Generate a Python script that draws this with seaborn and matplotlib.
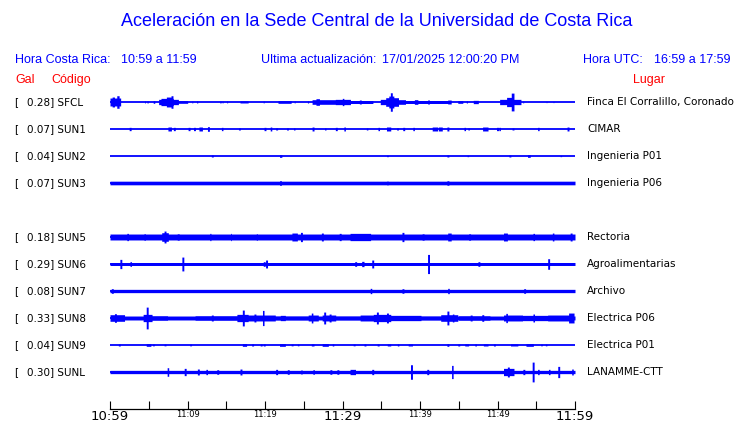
import numpy as np
import pandas as pd
import matplotlib
matplotlib.use("Agg")
import matplotlib.pyplot as plt
import matplotlib.transforms as mtransforms
import seaborn as sns

# stations, top to bottom (row 4 = SUN4, no data this hour)
CODES = ["SFCL", "SUN1", "SUN2", "SUN3", "SUN5", "SUN6", "SUN7", "SUN8", "SUN9", "SUNL"]
ROWS = [0, 1, 2, 3, 5, 6, 7, 8, 9, 10]
PGA = [0.28, 0.07, 0.04, 0.07, 0.18, 0.29, 0.08, 0.33, 0.04, 0.30]
PLACES = ["Finca El Corralillo, Coronado", "CIMAR", "Ingenieria P01", "Ingenieria P06",
          "Rectoria", "Agroalimentarias", "Archivo", "Electrica P06", "Electrica P01",
          "LANAMME-CTT"]

# background noise level of each trace (Gal)
BASE = [0.0, 0.0, 0.0, 0.055, 0.09, 0.045, 0.05, 0.06, 0.0, 0.05]

# bursts: (start min, end min, amplitude Gal)
EV_SFCL = [(0.0, 1.4, 0.12), (0.3, 0.6, 0.15), (0.9, 1.2, 0.19), (4.5, 4.6, 0.03),
           (4.8, 4.9, 0.03), (5.6, 5.8, 0.04), (6.3, 8.8, 0.08), (6.6, 8.2, 0.11),
           (7.3, 8.0, 0.15), (7.9, 8.1, 0.19), (8.8, 10.0, 0.04), (10.6, 10.7, 0.03),
           (11.2, 11.3, 0.03), (14.2, 14.3, 0.03), (14.5, 14.6, 0.03), (15.1, 15.2, 0.03),
           (16.8, 17.8, 0.03), (19.8, 19.9, 0.03), (21.7, 23.4, 0.04), (23.8, 23.9, 0.03),
           (25.5, 25.6, 0.03), (26.1, 27.8, 0.07), (26.6, 27.0, 0.10), (27.8, 29.1, 0.07),
           (29.1, 31.0, 0.08), (30.0, 30.2, 0.11), (31.0, 33.9, 0.045), (32.2, 32.4, 0.06),
           (34.9, 35.6, 0.08), (35.6, 37.2, 0.13), (36.0, 36.6, 0.18), (36.2, 36.4, 0.28),
           (37.2, 38.1, 0.07), (38.1, 43.6, 0.045), (39.3, 39.7, 0.07), (41.0, 41.2, 0.06),
           (43.6, 44.0, 0.06), (44.9, 45.5, 0.04), (46.0, 46.1, 0.03), (46.9, 47.5, 0.05),
           (50.3, 51.2, 0.08), (51.2, 52.1, 0.14), (51.8, 52.1, 0.27), (52.1, 53.0, 0.08),
           (53.3, 53.4, 0.03), (56.3, 56.4, 0.02), (57.2, 57.3, 0.02)]
EV_SUN1 = [(2.5, 2.7, 0.05), (7.5, 7.9, 0.06), (8.2, 8.4, 0.05), (10.1, 10.3, 0.05),
           (10.8, 11.0, 0.05), (11.5, 11.9, 0.06), (12.6, 12.8, 0.07), (14.4, 14.6, 0.05),
           (16.6, 16.8, 0.03), (19.9, 20.1, 0.05), (20.7, 20.9, 0.06), (21.4, 21.6, 0.03),
           (22.8, 23.0, 0.03), (23.7, 23.9, 0.03), (26.1, 26.3, 0.06), (27.7, 27.9, 0.03),
           (29.1, 29.3, 0.05), (30.2, 30.4, 0.06), (33.1, 33.3, 0.03), (34.6, 34.8, 0.05),
           (35.7, 36.2, 0.06), (37.0, 37.2, 0.03), (37.8, 38.0, 0.05), (39.1, 39.3, 0.05),
           (41.6, 42.3, 0.06), (42.4, 42.9, 0.06), (43.5, 43.7, 0.06), (45.7, 45.9, 0.05),
           (46.2, 46.4, 0.03), (48.1, 48.8, 0.06), (49.9, 50.1, 0.05), (50.2, 50.4, 0.05),
           (51.9, 52.1, 0.03), (55.2, 55.4, 0.05), (59.0, 59.2, 0.06)]
EV_SUN2 = [(13.1, 13.3, 0.03), (21.9, 22.2, 0.04), (35.7, 35.9, 0.02), (43.5, 43.7, 0.03),
           (46.1, 46.3, 0.02), (51.5, 51.7, 0.03), (53.9, 54.2, 0.04), (58.1, 58.3, 0.02)]
EV_SUN3 = [(21.9, 22.1, 0.07), (35.7, 35.9, 0.06), (43.5, 43.7, 0.07)]
EV_SUN5 = [(2.2, 2.4, 0.11), (4.4, 4.6, 0.10), (6.7, 7.5, 0.13), (7.0, 7.2, 0.18),
           (8.7, 8.9, 0.10), (12.9, 13.0, 0.11), (15.6, 15.7, 0.11), (18.9, 19.0, 0.10),
           (23.5, 24.2, 0.12), (24.6, 24.8, 0.14), (27.3, 27.5, 0.12), (29.6, 29.8, 0.11),
           (31.0, 33.6, 0.11), (37.7, 37.9, 0.14), (40.3, 40.5, 0.10), (43.6, 44.0, 0.12),
           (46.3, 46.5, 0.10), (50.8, 51.3, 0.12), (54.6, 54.8, 0.11), (57.1, 57.3, 0.12),
           (59.4, 59.6, 0.12)]
EV_SUN6 = [(1.3, 1.5, 0.14), (2.6, 2.8, 0.07), (9.3, 9.5, 0.21), (19.8, 20.0, 0.07),
           (20.1, 20.3, 0.12), (31.6, 31.8, 0.07), (32.5, 32.8, 0.08), (33.8, 34.0, 0.12),
           (41.0, 41.2, 0.29), (47.5, 47.7, 0.07), (56.5, 56.7, 0.16)]
EV_SUN7 = [(0.2, 0.4, 0.07), (33.6, 33.8, 0.08), (37.7, 37.9, 0.07), (43.6, 43.8, 0.08),
           (53.4, 53.6, 0.07)]
EV_SUN8 = [(0.0, 1.9, 0.10), (0.6, 0.8, 0.13), (4.3, 5.4, 0.11), (4.7, 4.9, 0.33),
           (5.4, 7.4, 0.07), (11.0, 16.4, 0.07), (13.1, 13.3, 0.09), (16.4, 17.8, 0.11),
           (17.1, 17.3, 0.24), (17.8, 21.3, 0.09), (18.6, 18.8, 0.12), (19.7, 19.9, 0.23),
           (21.3, 25.6, 0.065), (22.0, 22.6, 0.08), (25.6, 26.9, 0.09), (26.0, 26.2, 0.15),
           (27.4, 29.1, 0.09), (27.6, 27.8, 0.18), (28.3, 28.5, 0.12), (29.1, 32.3, 0.065),
           (32.3, 34.0, 0.09), (34.0, 36.2, 0.11), (34.4, 34.6, 0.18), (35.7, 35.9, 0.15),
           (36.2, 40.1, 0.08), (40.1, 42.7, 0.065), (42.7, 44.9, 0.10), (43.5, 43.7, 0.21),
           (44.2, 44.4, 0.12), (45.0, 49.0, 0.07), (46.5, 46.7, 0.09), (48.0, 48.2, 0.10),
           (50.8, 53.2, 0.09), (51.1, 51.3, 0.14), (53.2, 56.5, 0.08), (54.6, 54.8, 0.12),
           (56.5, 59.9, 0.09), (59.2, 59.9, 0.15)]
EV_SUN9 = [(1.1, 1.3, 0.03), (4.7, 5.3, 0.04), (5.5, 5.7, 0.025), (7.0, 7.2, 0.025),
           (10.3, 10.5, 0.025), (17.1, 17.6, 0.04), (18.3, 18.5, 0.03), (19.4, 19.6, 0.03),
           (19.8, 20.0, 0.03), (21.9, 22.6, 0.04), (23.4, 23.6, 0.025), (24.2, 24.4, 0.025),
           (26.0, 26.3, 0.03), (27.4, 28.2, 0.04), (28.7, 28.9, 0.03), (31.4, 31.6, 0.025),
           (32.8, 33.0, 0.03), (34.5, 34.7, 0.03), (35.8, 36.2, 0.03), (37.1, 37.3, 0.03),
           (38.5, 39.0, 0.03), (43.5, 43.7, 0.04), (44.9, 45.1, 0.03), (45.8, 46.3, 0.03),
           (47.1, 47.3, 0.03), (48.2, 48.8, 0.03), (49.5, 49.7, 0.03), (51.7, 52.6, 0.03),
           (53.7, 54.6, 0.04), (55.6, 55.8, 0.025), (56.2, 56.4, 0.025)]
EV_SUNL = [(7.4, 7.6, 0.13), (9.6, 9.8, 0.11), (11.3, 11.5, 0.09), (12.4, 12.6, 0.08),
           (13.8, 14.0, 0.07), (16.8, 17.0, 0.09), (21.4, 21.6, 0.08), (22.9, 23.1, 0.07),
           (24.6, 24.8, 0.06), (26.2, 26.4, 0.07), (28.4, 28.6, 0.07), (29.3, 29.5, 0.07),
           (31.0, 31.7, 0.08), (33.8, 34.0, 0.08), (38.8, 39.0, 0.22), (40.9, 41.1, 0.08),
           (44.1, 44.3, 0.20), (50.8, 52.1, 0.11), (51.3, 51.5, 0.15), (53.3, 53.5, 0.08),
           (54.5, 54.7, 0.30), (55.2, 55.4, 0.08), (56.6, 56.8, 0.08), (57.8, 58.0, 0.17),
           (59.6, 59.8, 0.09)]
EVENTS = [EV_SFCL, EV_SUN1, EV_SUN2, EV_SUN3, EV_SUN5, EV_SUN6, EV_SUN7, EV_SUN8,
          EV_SUN9, EV_SUNL]

TICK_MIN = [0, 10, 20, 30, 40, 50, 60]
TICK_LABELS = ["10:59", "11:09", "11:19", "11:29", "11:39", "11:49", "11:59"]

BLUE = "#0000ff"
RED = "#ff0000"
GAL_TO_ROW = 33 / 27  # 33 px per Gal, rows 27 px apart

W, H = 740, 423
sns.set_theme(style="white")
plt.rcParams["font.family"] = ["DejaVu Sans"]

fig = plt.figure(figsize=(W / 100, H / 100), dpi=100)
ax = fig.add_axes([110 / W, (H - 409) / H, 465 / W, (409 - 88) / H])

t = np.linspace(0, 60, 1201)
for code, row, base, events in zip(CODES, ROWS, BASE, EVENTS):
    env = np.full_like(t, base)
    for a, b, g in events:
        m = (t >= a) & (t <= b)
        env[m] = np.maximum(env[m], g)
    ax.fill_between(t, row - env * GAL_TO_ROW, row + env * GAL_TO_ROW,
                    color=BLUE, lw=0, step="mid")

base_df = pd.DataFrame({
    "t": [0, 60] * len(CODES),
    "row": [r for r in ROWS for _ in range(2)],
    "code": [c for c in CODES for _ in range(2)],
})
sns.lineplot(data=base_df, x="t", y="row", hue="code", palette=[BLUE] * len(CODES),
             legend=False, lw=1.3, ax=ax)

ax.set_xlim(0, 60)
ax.set_ylim((409 - 102) / 27, (88 - 102) / 27)
ax.set_xlabel("")
ax.set_ylabel("")
ax.set_yticks([])
for s in ["left", "top", "right"]:
    ax.spines[s].set_visible(False)
ax.spines["bottom"].set_color("black")
ax.spines["bottom"].set_linewidth(0.9)
ax.set_xticks(TICK_MIN)
ax.set_xticklabels(TICK_LABELS)
ax.set_xticks(np.arange(5, 60, 10), minor=True)
ax.tick_params(axis="x", which="both", direction="in", length=6, width=0.8,
               colors="black", pad=1, bottom=True)
for m, lbl in zip(TICK_MIN, ax.get_xticklabels()):
    lbl.set_fontsize(9.5 if m % 30 == 0 else 6)

# station labels on both sides
tr = mtransforms.blended_transform_factory(fig.transFigure, ax.transData)
for code, row, pga, place in zip(CODES, ROWS, PGA, PLACES):
    ax.text(14 / W, row, "[", transform=tr, fontsize=7.5, va="center", color="black")
    ax.text(27 / W, row, f"{pga:.2f}] {code}", transform=tr, fontsize=7.5,
            va="center", color="black")
    ax.text(587 / W, row, place, transform=tr, fontsize=7.5, va="center", color="black")

hdr = dict(fontsize=9, color=BLUE, va="center", family="Liberation Sans")
fig.text(377 / W, 1 - 22 / H, "Aceleración en la Sede Central de la Universidad de Costa Rica",
         ha="center", va="center", fontsize=13, color=BLUE, family="Liberation Sans")
fig.text(15 / W, 1 - 60 / H, "Hora Costa Rica:", **hdr)
fig.text(121 / W, 1 - 60 / H, "10:59 a 11:59", **hdr)
fig.text(261 / W, 1 - 60 / H, "Ultima actualización:", **hdr)
fig.text(382 / W, 1 - 60 / H, "17/01/2025 12:00:20 PM", **hdr)
fig.text(583 / W, 1 - 60 / H, "Hora UTC:", **hdr)
fig.text(654 / W, 1 - 60 / H, "16:59 a 17:59", **hdr)

red = dict(fontsize=9, color=RED, va="center", family="Liberation Sans")
fig.text(15 / W, 1 - 80 / H, "Gal", **red)
fig.text(51 / W, 1 - 80 / H, "Código", **red)
fig.text(633 / W, 1 - 80 / H, "Lugar", **red)

fig.savefig("out.png", dpi=100, facecolor="white")
